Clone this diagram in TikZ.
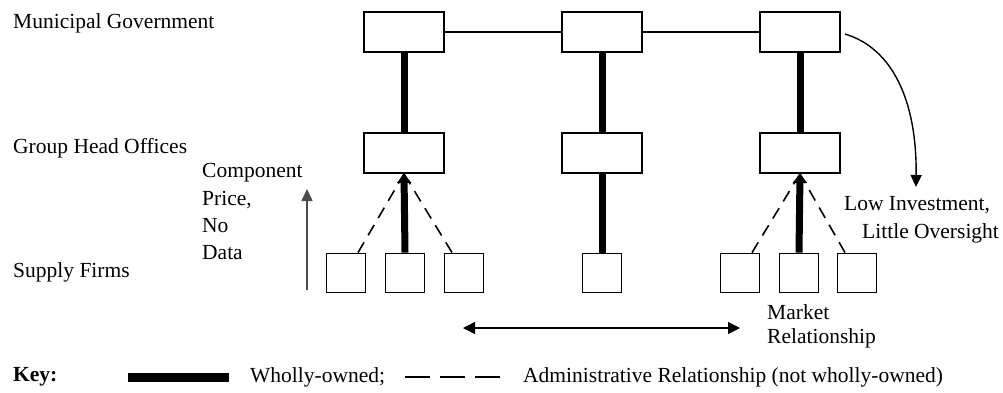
\documentclass[tikz,border=0pt]{standalone}
\usepackage{fontspec}
\setmainfont{Liberation Serif}
\usetikzlibrary{arrows.meta}
\begin{document}
\begin{tikzpicture}[x=1pt,y=-1pt,
  every node/.style={font=\fontsize{21.5}{26}\selectfont},
  bigbox/.style={draw,line width=1.8pt,minimum width=80pt,minimum height=40pt,inner sep=0pt},
  smallbox/.style={draw,line width=1.8pt,minimum width=39pt,minimum height=39pt,inner sep=0pt},
  owned/.style={line width=7pt},
  admin/.style={line width=1.6pt,dash pattern=on 12pt off 8pt},
  link/.style={line width=1.4pt},
  lbl/.style={anchor=west,inner sep=0pt,align=left}]
\useasboundingbox (0,0) rectangle (1003,392);

% level labels
\node[lbl] (lmun) at (13,23) {Municipal Government};
\node[lbl] (lgrp) at (13,148) {Group Head Offices};
\node[lbl] (lsup) at (13,272) {Supply Firms};

% municipal government boxes
\node[bigbox] (m1) at (404,32) {};
\node[bigbox] (m2) at (602,32) {};
\node[bigbox] (m3) at (800,32) {};
\draw[link] (m1) -- (m2);
\draw[link] (m2) -- (m3);

% group head offices
\node[bigbox] (g1) at (404,153) {};
\node[bigbox] (g2) at (602,153) {};
\node[bigbox] (g3) at (800,153) {};
\draw[owned] (m1) -- (g1);
\draw[owned] (m2) -- (g2);
\draw[owned] (m3) -- (g3);

% supply firms
\node[smallbox] (s1a) at (346,273) {};
\node[smallbox] (s1b) at (405,273) {};
\node[smallbox] (s1c) at (464,273) {};
\node[smallbox] (s2) at (602,273) {};
\node[smallbox] (s3a) at (740,273) {};
\node[smallbox] (s3b) at (799,273) {};
\node[smallbox] (s3c) at (857,273) {};

% ownership links of the supply firms
\draw[owned,-{Triangle[length=9pt,width=14pt]}] (s1b.north) -- (g1.south);
\draw[owned] (s2.north) -- (g2.south);
\draw[owned,-{Triangle[length=9pt,width=14pt]}] (s3b.north) -- (g3.south);

\draw[admin] ([xshift=12pt]s1a.north) -- (g1.south);
\draw[admin] ([xshift=-12pt]s1c.north) -- (g1.south);
\draw[admin] ([xshift=12pt]s3a.north) -- (g3.south);
\draw[admin] ([xshift=-12pt]s3c.north) -- (g3.south);

% component price flow
\coordinate (pb) at (307,290);
\coordinate (pt) at (307,189);
\draw[line width=1.6pt,black!70,-{Triangle[length=12pt,width=11pt]}] (pb) -- (pt);
\node[lbl] (price) at (202,173) {Component};
\node[lbl] (price2) at (202,200) {Price,};
\node[lbl] (price3) at (202,226) {No};
\node[lbl] (price4) at (202,253) {Data};

% investment from the municipality
\coordinate (inv) at (916,187);
\draw[line width=1.4pt,-{Triangle[length=12pt,width=11pt]}] ([xshift=4pt,yshift=-2pt]m3.east) .. controls (892,48) and (917,100) .. (inv);
\node[lbl] (low1) at (844,205) {Low Investment,};
\node[lbl] (low2) at (862,233) {Little Oversight};

% market relationship
\coordinate (ma) at (463,328);
\coordinate (mb) at (740,328);
\draw[line width=1.4pt,{Triangle[length=12pt,width=12pt]}-{Triangle[length=12pt,width=12pt]}] (ma) -- (mb);
\node[lbl] (mk1) at (767,312) {Market};
\node[lbl] (mk2) at (767,338) {Relationship};

% key
\node[lbl,font=\fontsize{21.5}{26}\selectfont\bfseries] (key) at (13,377) {Key:};
\coordinate (k1) at (128,377);
\coordinate (k2) at (229,377);
\draw[line width=9pt] (k1) -- (k2);
\node[lbl] (kw) at (250,377) {Wholly-owned;};
\coordinate (k3) at (405,377);
\coordinate (k4) at (500,377);
\draw[line width=1.6pt,dash pattern=on 25pt off 10pt] (k3) -- (k4);
\node[lbl] (ka) at (523,377) {Administrative Relationship (not wholly-owned)};
\end{tikzpicture}
\end{document}
